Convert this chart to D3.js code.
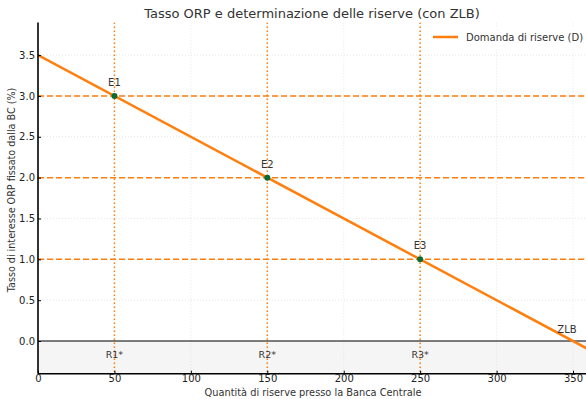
<!DOCTYPE html>
<html>
<head>
<meta charset="utf-8">
<style>
  body{ margin:0; background:#fff; }
  text{ font-family: "DejaVu Sans", sans-serif; }
</style>
</head>
<body>
<svg id="chart" width="586" height="399"></svg>
<script src="https://d3js.org/d3.v7.min.js"></script>
<script>
// dati
const demandR = [0, 360]
const demandRate = [3.5, -0.1]
const eqNames = ['E1', 'E2', 'E3']
const eqR = [50, 150, 250]
const eqRate = [3.0, 2.0, 1.0]
const resLabels = ['R1*', 'R2*', 'R3*']
const xTicks = [0, 50, 100, 150, 200, 250, 300, 350]
const yTicks = [0.0, 0.5, 1.0, 1.5, 2.0, 2.5, 3.0, 3.5]

const orange = '#ff7f0e'
const svg = d3.select('#chart')

// scale
const x = d3.scaleLinear().domain([0, 360]).range([38, 588.3])
const y = d3.scaleLinear().domain([-0.4, 3.9]).range([373.7, 22.4])

const plot = svg.append('g')
svg.append('defs').append('clipPath').attr('id', 'clip')
   .append('rect')
   .attr('x', x(0)).attr('y', y(3.9))
   .attr('width', x(360) - x(0)).attr('height', y(-0.4) - y(3.9))
plot.attr('clip-path', 'url(#clip)')

// zona sotto ZLB
plot.append('rect')
    .attr('x', x(0)).attr('y', y(0))
    .attr('width', x(360) - x(0)).attr('height', y(-0.4) - y(0))
    .attr('fill', '#f5f5f5')

// griglia
plot.selectAll('.gx').data(xTicks).join('line')
    .attr('x1', d => x(d)).attr('x2', d => x(d))
    .attr('y1', y(3.9)).attr('y2', y(-0.4))
    .attr('stroke', '#e0e0e0').attr('stroke-width', 0.8).attr('stroke-dasharray', '1,2')
plot.selectAll('.gy').data(yTicks).join('line')
    .attr('x1', x(0)).attr('x2', x(360))
    .attr('y1', d => y(d)).attr('y2', d => y(d))
    .attr('stroke', '#e0e0e0').attr('stroke-width', 0.8).attr('stroke-dasharray', '1,2')

// linea y = 0
plot.append('line')
    .attr('x1', x(0)).attr('x2', x(360))
    .attr('y1', y(0)).attr('y2', y(0))
    .attr('stroke', '#000').attr('stroke-width', 1.2)

// linee orizzontali tratteggiate
plot.selectAll('.hl').data(eqRate).join('line')
    .attr('x1', x(0)).attr('x2', x(360))
    .attr('y1', d => y(d)).attr('y2', d => y(d))
    .attr('stroke', orange).attr('stroke-width', 1.5).attr('stroke-dasharray', '6,3')

// linee verticali puntinate
plot.selectAll('.vl').data(eqR).join('line')
    .attr('x1', d => x(d)).attr('x2', d => x(d))
    .attr('y1', y(3.9)).attr('y2', y(-0.4))
    .attr('stroke', orange).attr('stroke-width', 1.5).attr('stroke-dasharray', '1.5,2.5')

// curva di domanda
const line = d3.line().x(d => x(d[0])).y(d => y(d[1]))
plot.append('path')
    .attr('d', line(d3.zip(demandR, demandRate)))
    .attr('stroke', orange).attr('stroke-width', 2.5).attr('fill', 'none')

// punti di equilibrio
plot.selectAll('.pt').data(eqR).join('circle')
    .attr('cx', d => x(d)).attr('cy', (d, i) => y(eqRate[i]))
    .attr('r', 3).attr('fill', '#0b6b35')

// etichette
svg.selectAll('.el').data(eqNames).join('text')
   .attr('x', (d, i) => x(eqR[i])).attr('y', (d, i) => y(eqRate[i]) - 10)
   .attr('text-anchor', 'middle').attr('font-size', 10).attr('fill', '#333')
   .text(d => d)
svg.selectAll('.rl').data(resLabels).join('text')
   .attr('x', (d, i) => x(eqR[i])).attr('y', 357.5)
   .attr('text-anchor', 'middle').attr('font-size', 9.5).attr('fill', '#333')
   .text(d => d)
svg.append('text')
   .attr('x', x(350) - 6).attr('y', y(0) - 8)
   .attr('text-anchor', 'middle').attr('font-size', 10).attr('fill', '#333')
   .text('ZLB')

// assi
const xAxis = svg.append('g')
    .attr('transform', `translate(0,${y(-0.4)})`)
    .call(d3.axisBottom(x).tickValues(xTicks).tickSize(-3).tickPadding(1.5).tickFormat(d3.format('d')))
const yAxis = svg.append('g')
    .attr('transform', `translate(${x(0)},0)`)
    .call(d3.axisLeft(y).tickValues(yTicks).tickSize(-3).tickPadding(3).tickFormat(d3.format('.1f')))
for (const a of [xAxis, yAxis]) {
  a.select('.domain').attr('stroke', '#000').attr('stroke-width', 1.6)
  a.selectAll('.tick line').attr('stroke', '#000')
  a.selectAll('text').attr('font-size', 10).attr('fill', '#222')
   .attr('font-family', '"DejaVu Sans", sans-serif')
}
xAxis.select('.domain').attr('d', `M${x(0)},0H${x(360)}`)
yAxis.select('.domain').attr('d', `M0,${y(3.9)}V${y(-0.4)}`)

// titoli
svg.append('text')
   .attr('x', 312).attr('y', 18)
   .attr('text-anchor', 'middle').attr('font-size', 13).attr('fill', '#333')
   .text('Tasso ORP e determinazione delle riserve (con ZLB)')
svg.append('text')
   .attr('x', 313).attr('y', 396)
   .attr('text-anchor', 'middle').attr('font-size', 9.8).attr('fill', '#333')
   .text('Quantità di riserve presso la Banca Centrale')
svg.append('text')
   .attr('transform', 'translate(15,190) rotate(-90)')
   .attr('text-anchor', 'middle').attr('font-size', 9.6).attr('fill', '#333')
   .text('Tasso di interesse ORP fissato dalla BC (%)')

// legenda
const lg = svg.append('g').attr('transform', 'translate(426,27)')
lg.append('rect').attr('width', 165).attr('height', 21).attr('fill', '#fff').attr('opacity', 0.9)
lg.append('line').attr('x1', 7).attr('x2', 32).attr('y1', 10).attr('y2', 10)
  .attr('stroke', orange).attr('stroke-width', 2.5)
lg.append('text').attr('x', 40).attr('y', 13.5)
  .attr('font-size', 10).attr('fill', '#333').text('Domanda di riserve (D)')
</script>
</body>
</html>
